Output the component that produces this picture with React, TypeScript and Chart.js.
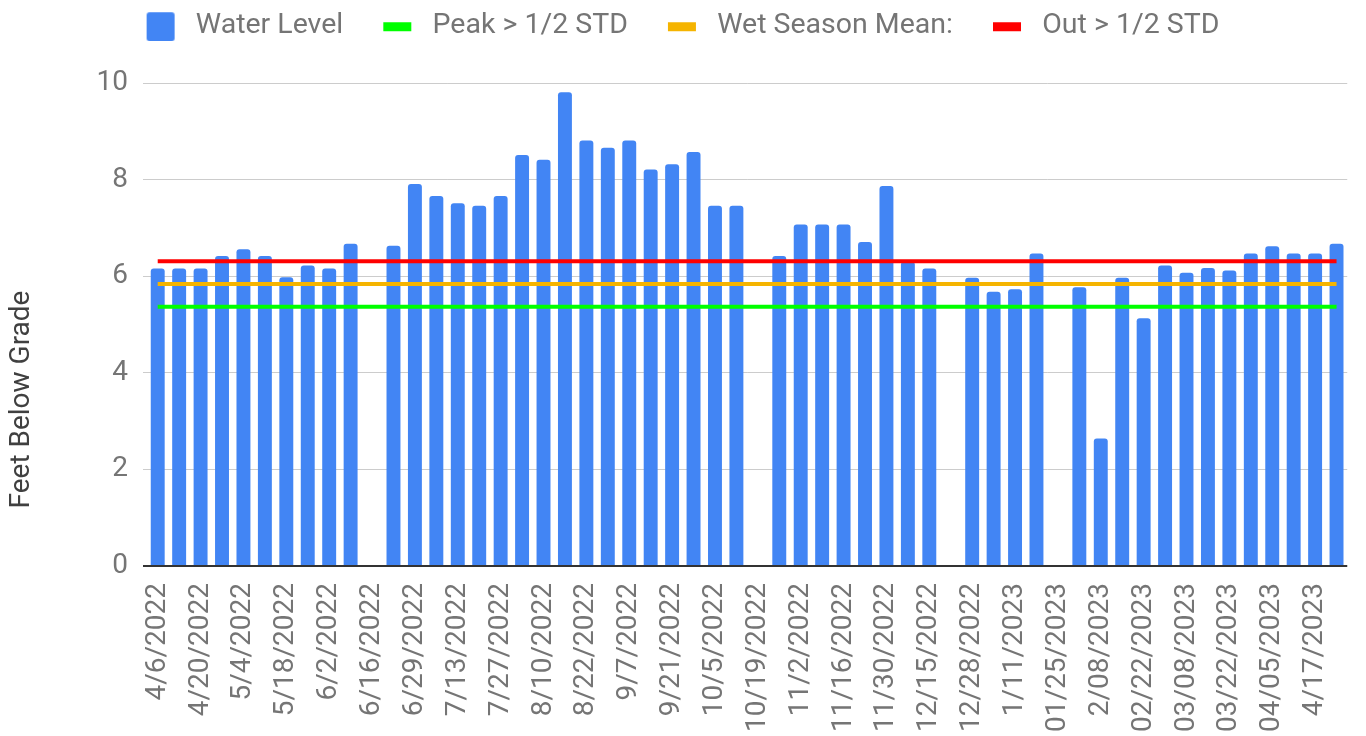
import React, { useEffect, useRef } from 'react';
import { Chart, registerables } from 'chart.js';

Chart.register(...registerables);

// ---- Data ----
const categories: string[] = [
  '4/6/2022', '4/13/2022', '4/20/2022', '4/27/2022', '5/4/2022', '5/11/2022', '5/18/2022', '5/25/2022',
  '6/2/2022', '6/9/2022', '6/16/2022', '6/22/2022', '6/29/2022', '7/6/2022', '7/13/2022', '7/20/2022',
  '7/27/2022', '8/3/2022', '8/10/2022', '8/16/2022', '8/22/2022', '8/31/2022', '9/7/2022', '9/14/2022',
  '9/21/2022', '9/28/2022', '10/5/2022', '10/12/2022', '10/19/2022', '10/26/2022', '11/2/2022', '11/9/2022',
  '11/16/2022', '11/23/2022', '11/30/2022', '12/7/2022', '12/15/2022', '12/21/2022', '12/28/2022', '1/4/2023',
  '1/11/2023', '1/18/2023', '01/25/2023', '2/01/2023', '2/08/2023', '02/15/2023', '02/22/2023', '03/01/2023',
  '03/08/2023', '03/15/2023', '03/22/2023', '03/29/2023', '04/05/2023', '04/12/2023', '4/17/2023', '4/24/2023',
];

const waterLevel: (number | null)[] = [
  6.16, 6.16, 6.16, 6.42, 6.56, 6.42, 5.98, 6.22,
  6.16, 6.67, null, 6.63, 7.91, 7.66, 7.51, 7.46,
  7.66, 8.51, 8.41, 9.81, 8.81, 8.66, 8.81, 8.21,
  8.32, 8.57, 7.46, 7.46, null, 6.42, 7.07, 7.07,
  7.07, 6.71, 7.87, 6.30, 6.16, null, 5.97, 5.68,
  5.73, 6.47, null, 5.77, 2.64, 5.97, 5.13, 6.22,
  6.07, 6.17, 6.12, 6.47, 6.62, 6.47, 6.47, 6.67,
];

const peakLevel = 5.37;
const wetSeasonMean = 5.84;
const outLevel = 6.31;

const yMin = 0;
const yMax = 10;
const yStep = 2;

const yAxisTitle = 'Feet Below Grade';
const legendNames = ['Water Level', 'Peak > 1/2 STD', 'Wet Season Mean:', 'Out > 1/2 STD'];

const BLUE = '#4285F4';
const GREEN = '#00FF00';
const ORANGE = '#F5B400';
const RED = '#FF0000';

function makeMarker(color: string, kind: 'box' | 'line'): HTMLCanvasElement {
  const c = document.createElement('canvas');
  c.width = 46;
  c.height = 30;
  const ctx = c.getContext('2d')!;
  ctx.fillStyle = color;
  if (kind === 'box') {
    const x = 11, y = 1, w = 28, h = 29, r = 3;
    ctx.beginPath();
    ctx.moveTo(x + r, y);
    ctx.lineTo(x + w - r, y);
    ctx.quadraticCurveTo(x + w, y, x + w, y + r);
    ctx.lineTo(x + w, y + h - r);
    ctx.quadraticCurveTo(x + w, y + h, x + w - r, y + h);
    ctx.lineTo(x + r, y + h);
    ctx.quadraticCurveTo(x, y + h, x, y + h - r);
    ctx.lineTo(x, y + r);
    ctx.quadraticCurveTo(x, y, x + r, y);
    ctx.closePath();
    ctx.fill();
  } else {
    ctx.fillRect(11, 11, 28, 9);
  }
  return c;
}

export default function App() {
  const canvasRef = useRef<HTMLCanvasElement | null>(null);

  useEffect(() => {
    document.body.style.margin = '0';
    document.body.style.overflow = 'hidden';
    const canvas = canvasRef.current;
    if (!canvas) return;

    Chart.defaults.font.family = 'Roboto';

    const markers = [
      makeMarker(BLUE, 'box'),
      makeMarker(GREEN, 'line'),
      makeMarker(ORANGE, 'line'),
      makeMarker(RED, 'line'),
    ];

    const legendSpacer = {
      id: 'legendSpacer',
      beforeInit(chart: any) {
        const legend = chart.legend;
        if (!legend) return;
        const origFit = legend.fit;
        legend.fit = function () {
          origFit.call(this);
          this.height += 32.5;
        };
      },
    };

    // y-axis title, centred on the plot + x-label band as in the reference
    const yTitlePlugin = {
      id: 'yTitlePlugin',
      afterDraw(chart: any) {
        const { ctx, chartArea } = chart;
        const yScale = chart.scales.y;
        const cy = (chartArea.top + chartArea.bottom) / 2 + 75;
        const cx = yScale.left + 22;
        ctx.save();
        ctx.translate(cx, cy);
        ctx.rotate(-Math.PI / 2);
        ctx.font = '28px Roboto';
        ctx.fillStyle = '#404040';
        ctx.textAlign = 'center';
        ctx.textBaseline = 'middle';
        ctx.fillText(yAxisTitle, 0, 0);
        ctx.restore();
      },
    };

    const chart = new Chart(canvas, {
      type: 'bar',
      data: {
        labels: categories,
        datasets: [
          {
            type: 'bar',
            label: legendNames[0],
            data: waterLevel,
            backgroundColor: BLUE,
            borderRadius: 3,
            barPercentage: 0.65,
            categoryPercentage: 1.0,
            order: 1,
          } as any,
          {
            type: 'line',
            label: legendNames[1],
            data: categories.map(() => peakLevel),
            borderColor: GREEN,
            borderWidth: 4,
            pointRadius: 0,
            fill: false,
            order: 0,
          },
          {
            type: 'line',
            label: legendNames[2],
            data: categories.map(() => wetSeasonMean),
            borderColor: ORANGE,
            borderWidth: 4,
            pointRadius: 0,
            fill: false,
            order: 0,
          },
          {
            type: 'line',
            label: legendNames[3],
            data: categories.map(() => outLevel),
            borderColor: RED,
            borderWidth: 4,
            pointRadius: 0,
            fill: false,
            order: 0,
          },
        ],
      },
      options: {
        responsive: false,
        animation: false,
        events: [],
        layout: { padding: { top: -17, left: 0, right: 11, bottom: -13 } },
        plugins: {
          tooltip: { enabled: false },
          legend: {
            display: true,
            position: 'top',
            align: 'center',
            labels: {
              usePointStyle: true,
              pointStyleWidth: 46,
              padding: 29,
              color: '#757575',
              font: { size: 28.5, family: 'Roboto' },
              generateLabels: () =>
                legendNames.map((name, i) => ({
                  text: name,
                  pointStyle: markers[i] as any,
                  fillStyle: 'transparent',
                  strokeStyle: 'transparent',
                  lineWidth: 0,
                  hidden: false,
                  datasetIndex: i,
                  fontColor: '#757575',
                })),
            },
          },
        },
        scales: {
          x: {
            offset: true,
            grid: { display: false, drawTicks: false },
            border: { display: false },
            ticks: {
              autoSkip: false,
              maxRotation: 90,
              minRotation: 90,
              padding: 17,
              color: '#757575',
              font: { size: 28, family: 'Roboto' },
              callback: (_v: any, index: number) => (index % 2 === 0 ? categories[index] : null),
            },
          },
          y: {
            min: yMin,
            max: yMax,
            afterFit: (scale: any) => {
              scale.width = 147;
            },
            ticks: {
              stepSize: yStep,
              padding: 15,
              color: '#757575',
              font: { size: 28, family: 'Roboto' },
            },
            border: { display: false },
            grid: {
              tickLength: 4,
              color: (ctx: any) => (ctx.tick && ctx.tick.value === 0 ? '#333333' : '#cccccc'),
              lineWidth: (ctx: any) => (ctx.tick && ctx.tick.value === 0 ? 2 : 1),
            },
            title: { display: false },
          },
        },
      },
      plugins: [legendSpacer, yTitlePlugin],
    });

    return () => {
      chart.destroy();
    };
  }, []);

  return <canvas ref={canvasRef} width={1366} height={736} style={{ display: 'block' }} />;
}
